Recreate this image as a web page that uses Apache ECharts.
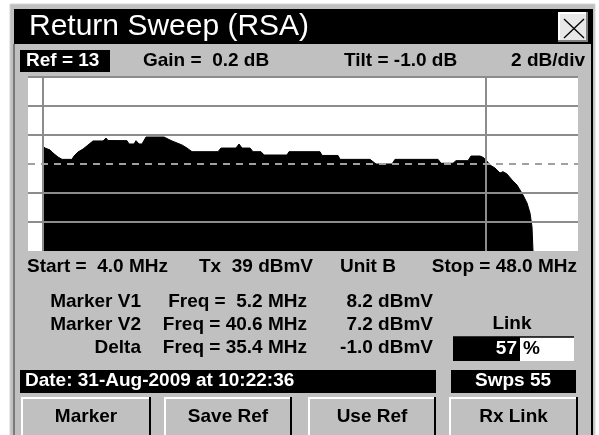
<!DOCTYPE html>
<html><head><meta charset="utf-8">
<script src="https://cdn.jsdelivr.net/npm/echarts@6/dist/echarts.min.js"></script>
<style>html,body{margin:0;padding:0;background:#fff}#c{width:599px;height:435px}</style>
</head><body><div id="c"></div>
<script>
// ---- data ----
const freqMHz = [5.12,5.36,5.76,6.0,6.4,6.72,7.52,7.68,8.0,8.4,8.8,9.2,10.0,10.24,10.4,11.92,12.08,12.48,12.64,12.88,13.12,13.44,14.88,15.2,15.52,15.92,16.32,16.72,17.12,19.2,19.44,20.64,20.88,21.12,21.76,22.0,22.64,22.88,24.72,24.88,27.36,27.52,28.8,28.96,31.36,31.6,31.84,33.12,33.36,36.8,37.04,38.0,38.24,39.2,39.44,40.16,40.4,40.64,40.96,41.36,41.76,42.0,42.32,42.72,43.12,43.36,43.6,43.92,44.16,44.32,44.4];
const levelDbmV = [8.31,8.10,7.97,7.76,7.48,7.32,7.32,7.55,7.83,8.03,8.31,8.59,8.59,8.79,8.62,8.61,8.38,8.38,8.61,8.38,8.38,8.86,8.86,8.72,8.59,8.45,8.31,8.10,7.85,7.85,8.10,8.10,8.38,8.10,8.10,7.85,7.85,7.62,7.62,7.85,7.85,7.59,7.59,7.32,7.32,7.16,7.0,7.0,7.32,7.32,7.05,7.05,7.23,7.23,7.55,7.55,7.46,7.28,6.93,6.72,6.38,6.47,6.31,5.90,5.55,5.21,4.86,4.31,3.62,2.66,1.0];
const startMHz = 4.0, stopMHz = 48.0;
const refTop = 13, bottomLevel = 1;
const gridLevels = [3, 5, 9, 11, 13];
const refLineLevel = 7;
const markerFreqs = [5.2, 40.6];

const titleText = 'Return Sweep (RSA)';
const headerTexts = ['Ref = 13', 'Gain =  0.2 dB', 'Tilt = -1.0 dB', '2 dB/div'];
const infoTexts = ['Start =  4.0 MHz', 'Tx  39 dBmV', 'Unit B', 'Stop = 48.0 MHz'];
const markerNames = ['Marker V1', 'Marker V2', 'Delta'];
const markerFreqTexts = ['Freq =  5.2 MHz', 'Freq = 40.6 MHz', 'Freq = 35.4 MHz'];
const markerLevelTexts = ['8.2 dBmV', '7.2 dBmV', '-1.0 dBmV'];
const linkLabel = 'Link', linkValue = '57', linkUnit = '%';
const dateText = 'Date: 31-Aug-2009 at 10:22:36';
const swpsText = 'Swps 55';
const buttonLabels = ['Marker', 'Save Ref', 'Use Ref', 'Rx Link'];

// ---- chart ----
const BOLD = 'bold 19px "Liberation Sans", Arial, sans-serif';
function txt(x, y, s, o) {
  o = o || {};
  return { type: 'text', x: x, y: y, z: 20,
    style: { text: s, fill: o.fill || '#000', font: o.font || BOLD,
      textAlign: o.align || 'left', textVerticalAlign: 'middle' } };
}
function rect(x, y, w, h, fill, z, stroke, lw) {
  return { type: 'rect', z: z || 1, shape: { x: x, y: y, width: w, height: h },
    style: { fill: fill, stroke: stroke || null, lineWidth: lw || 0 } };
}
function line(x1, y1, x2, y2, stroke, lw, z) {
  return { type: 'line', z: z || 5, shape: { x1: x1, y1: y1, x2: x2, y2: y2 },
    style: { stroke: stroke, lineWidth: lw || 1 } };
}

const g = [];
// panel frame
g.push(rect(10, 4, 585, 440, '#c0c0c0', 0, '#d4d4d4', 1));
g.push(line(14, 44, 14, 435, '#7a7a7a', 2, 2));
g.push(line(592, 9, 592, 435, '#000', 2, 2));
// title bar
g.push(rect(14, 9, 579, 35, '#000', 1));
g.push(txt(29, 27, titleText, { fill: '#fff', font: '30px "Liberation Sans", Arial, sans-serif' }));
// close button
g.push(rect(558, 12, 30, 30, '#e8e8e8', 2));
g.push(line(558, 13, 588, 13, '#fff', 2, 3));
g.push(line(559, 12, 559, 42, '#fff', 2, 3));
g.push(line(587, 12, 587, 42, '#808080', 2, 3));
g.push(line(558, 41, 588, 41, '#808080', 2, 3));
g.push(line(564, 19, 584, 38, '#000', 1.3, 4));
g.push(line(584, 19, 564, 38, '#000', 1.3, 4));
// header row
g.push(rect(20, 50, 90, 22, '#000', 2));
g.push(txt(26, 61, headerTexts[0], { fill: '#fff' }));
g.push(txt(143, 61, headerTexts[1]));
g.push(txt(344, 61, headerTexts[2]));
g.push(txt(585, 61, headerTexts[3], { align: 'right' }));
// plot background
g.push(rect(28, 77, 550, 174, '#fff', 2));
// info row
g.push(txt(27, 267, infoTexts[0]));
g.push(txt(199, 267, infoTexts[1]));
g.push(txt(340, 267, infoTexts[2]));
g.push(txt(577, 267, infoTexts[3], { align: 'right' }));
// marker rows
const rowY = [302, 325, 348];
for (let i = 0; i < 3; i++) {
  g.push(txt(141, rowY[i], markerNames[i], { align: 'right' }));
  g.push(txt(307, rowY[i], markerFreqTexts[i], { align: 'right' }));
  g.push(txt(433, rowY[i], markerLevelTexts[i], { align: 'right' }));
}
// link
g.push(txt(512, 324, linkLabel, { align: 'center' }));
g.push(rect(453, 337, 121, 24, '#fff', 2));
g.push(rect(453, 337, 67, 24, '#000', 3));
g.push(line(453, 337, 574, 337, '#000', 1.5, 4));
g.push(txt(517, 349, linkValue, { fill: '#fff', align: 'right' }));
g.push(txt(523, 349, linkUnit));
// status bars
g.push(rect(20, 370, 416, 23, '#000', 2));
g.push(txt(25, 381, dateText, { fill: '#fff' }));
g.push(rect(451, 370, 125, 23, '#000', 2));
g.push(txt(513, 381, swpsText, { fill: '#fff', align: 'center' }));
// buttons
const btnX = [[21, 151], [164, 292], [308, 436], [449, 578]];
for (let i = 0; i < 4; i++) {
  const x0 = btnX[i][0], x1 = btnX[i][1];
  g.push(rect(x0, 397, x1 - x0, 40, '#c0c0c0', 2));
  g.push(line(x0, 398, x1, 398, '#fff', 2, 3));
  g.push(line(x0 + 1, 397, x0 + 1, 435, '#fff', 2, 3));
  g.push(line(x1 - 1, 397, x1 - 1, 435, '#000', 2, 3));
  g.push(txt((x0 + x1) / 2, 417, buttonLabels[i], { align: 'center' }));
}

const traceData = freqMHz.map((f, i) => [f, levelDbmV[i]]);
const gridMarks = gridLevels.map(v => ({ yAxis: v }));

const option = {
  animation: false,
  backgroundColor: '#ffffff',
  graphic: { elements: g },
  grid: { left: 28, top: 77, width: 550, height: 174, show: false },
  xAxis: { type: 'value', min: startMHz, max: stopMHz, show: false, splitLine: { show: false } },
  yAxis: { type: 'value', min: bottomLevel, max: refTop, show: false, splitLine: { show: false } },
  series: [
    {
      type: 'line', data: traceData, symbol: 'none', z: 3,
      lineStyle: { color: '#000', width: 1 },
      areaStyle: { color: '#000', opacity: 1, origin: 'start' }
    },
    {
      type: 'line', data: [], z: 30, silent: true,
      markLine: {
        z: 30, silent: true, symbol: 'none', animation: false,
        label: { show: false },
        lineStyle: { color: '#8c8c8c', width: 2, type: 'solid' },
        data: gridMarks
          .concat(markerFreqs.map(f => ({ xAxis: f })))
          .concat([{ yAxis: refLineLevel, lineStyle: { color: '#a0a0a0', width: 2, type: [7, 6] } }])
      }
    }
  ]
};
const chart = echarts.init(document.getElementById('c'), null, { renderer: 'canvas', width: 599, height: 435 });
chart.setOption(option);
</script>
</body></html>
